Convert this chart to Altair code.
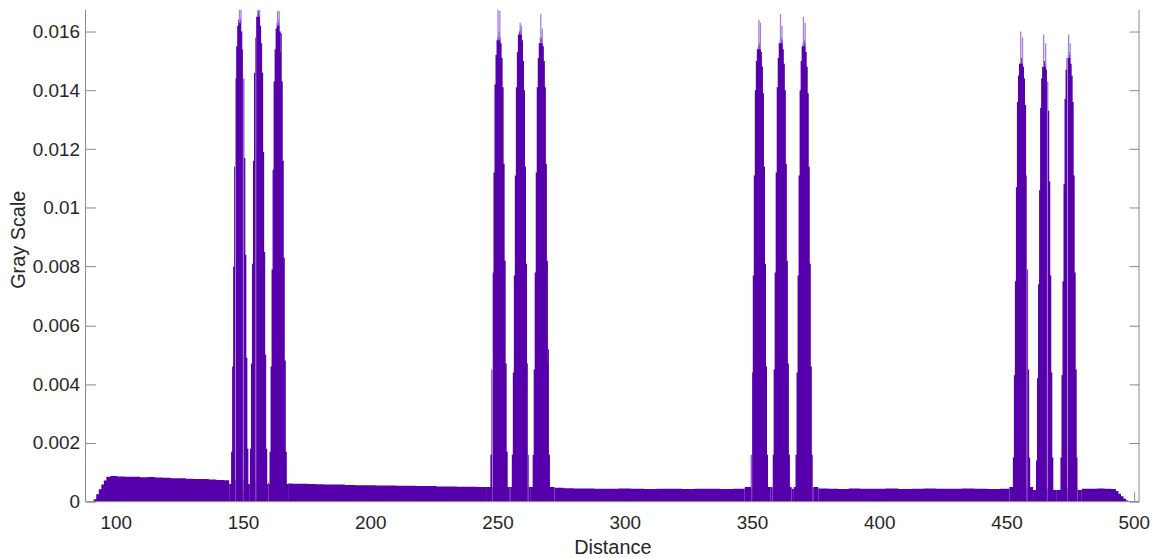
import altair as alt
import pandas as pd

# ---- data ----
base_x = [90.8, 91.8, 92.8, 93.8, 94.8, 95.8, 96.8, 99, 102, 105, 108, 111, 114, 117, 120, 123, 126,
          129, 132, 135, 138, 141, 144, 147, 150, 155, 160, 165, 168, 171, 174, 177, 180, 184, 188,
          192, 196, 200, 204, 208, 212, 216, 220, 224, 228, 232, 236, 240, 244, 248, 255, 262, 270,
          274, 278, 282, 286, 290, 295, 300, 305, 310, 315, 320, 325, 330, 335, 340, 345, 350, 358,
          366, 374, 378, 382, 386, 390, 395, 400, 405, 410, 415, 420, 425, 430, 435, 440, 445, 450,
          458, 466, 474, 478, 481, 484, 487, 490, 492.5, 493.5, 494.5, 495.5, 496.5, 497.5, 498.3]
base_y = [0.0, 0.00008, 0.00025, 0.00042, 0.00058, 0.00072, 0.00085, 0.00087, 0.00086, 0.00085,
          0.00085, 0.00083, 0.00084, 0.00082, 0.00081, 0.00080, 0.00080, 0.00078, 0.00077, 0.00077,
          0.00075, 0.00074, 0.00073, 0.00072, 0.00070, 0.00068, 0.00066, 0.00064, 0.00062, 0.00061,
          0.00061, 0.00060, 0.00059, 0.00058, 0.00058, 0.00057, 0.00056, 0.00056, 0.00055, 0.00055,
          0.00054, 0.00054, 0.00053, 0.00053, 0.00052, 0.00052, 0.00051, 0.00051, 0.00050, 0.00050,
          0.00050, 0.00050, 0.00049, 0.00047, 0.00046, 0.00045, 0.00045, 0.00044, 0.00044, 0.00045,
          0.00044, 0.00043, 0.00044, 0.00044, 0.00043, 0.00044, 0.00044, 0.00043, 0.00044, 0.00044,
          0.00044, 0.00044, 0.00044, 0.00045, 0.00044, 0.00043, 0.00045, 0.00044, 0.00044, 0.00045,
          0.00043, 0.00044, 0.00045, 0.00044, 0.00044, 0.00045, 0.00044, 0.00043, 0.00044, 0.00044,
          0.00044, 0.00044, 0.00045, 0.00044, 0.00044, 0.00045, 0.00044, 0.00043, 0.00036, 0.00027,
          0.00018, 0.00010, 0.00004, 0.0]

peak_offsets = [-3.6, -3.2, -2.8, -2.4, -2.0, -1.6, -1.2, -0.8, -0.4, 0.0,
                0.4, 0.8, 1.2, 1.6, 2.0, 2.4, 2.8, 3.2, 3.6]
peak_centers = [148.7, 156.1, 163.8, 250.6, 259.0, 267.2, 352.9, 361.5, 370.5, 455.9, 465.0, 474.6]
peak_heights = [
    [0.0006, 0.0017, 0.0046, 0.0080, 0.0114, 0.0144, 0.0155, 0.0162, 0.0164, 0.0165, 0.0164, 0.0160, 0.0154, 0.0144, 0.0117, 0.0084, 0.0049, 0.0018, 0.0006],
    [0.0006, 0.0018, 0.0047, 0.0081, 0.0116, 0.0146, 0.0158, 0.0165, 0.0166, 0.0167, 0.0166, 0.0162, 0.0156, 0.0146, 0.0119, 0.0085, 0.0050, 0.0018, 0.0006],
    [0.0006, 0.0017, 0.0046, 0.0079, 0.0113, 0.0143, 0.0154, 0.0161, 0.0163, 0.0164, 0.0163, 0.0160, 0.0153, 0.0143, 0.0116, 0.0083, 0.0048, 0.0017, 0.0006],
    [0.0005, 0.0016, 0.0045, 0.0078, 0.0112, 0.0142, 0.0152, 0.0157, 0.0158, 0.0160, 0.0158, 0.0156, 0.0151, 0.0141, 0.0115, 0.0082, 0.0047, 0.0017, 0.0005],
    [0.0005, 0.0016, 0.0044, 0.0077, 0.0111, 0.0141, 0.0153, 0.0159, 0.0160, 0.0161, 0.0160, 0.0157, 0.0150, 0.0140, 0.0114, 0.0081, 0.0047, 0.0016, 0.0005],
    [0.0005, 0.0016, 0.0045, 0.0078, 0.0112, 0.0141, 0.0151, 0.0156, 0.0158, 0.0158, 0.0157, 0.0155, 0.0150, 0.0141, 0.0115, 0.0082, 0.0047, 0.0016, 0.0005],
    [0.0005, 0.0016, 0.0044, 0.0077, 0.0111, 0.0140, 0.0150, 0.0154, 0.0155, 0.0156, 0.0155, 0.0153, 0.0148, 0.0139, 0.0114, 0.0081, 0.0046, 0.0016, 0.0005],
    [0.0005, 0.0016, 0.0045, 0.0078, 0.0112, 0.0141, 0.0151, 0.0156, 0.0157, 0.0158, 0.0157, 0.0154, 0.0149, 0.0140, 0.0115, 0.0082, 0.0047, 0.0016, 0.0005],
    [0.0005, 0.0016, 0.0044, 0.0077, 0.0111, 0.0140, 0.0150, 0.0155, 0.0156, 0.0157, 0.0156, 0.0153, 0.0148, 0.0139, 0.0114, 0.0081, 0.0046, 0.0016, 0.0005],
    [0.0005, 0.0015, 0.0043, 0.0075, 0.0107, 0.0136, 0.0145, 0.0149, 0.0150, 0.0151, 0.0150, 0.0148, 0.0144, 0.0135, 0.0111, 0.0079, 0.0045, 0.0015, 0.0005],
    [0.0004, 0.0014, 0.0042, 0.0074, 0.0106, 0.0134, 0.0144, 0.0148, 0.0150, 0.0150, 0.0149, 0.0147, 0.0143, 0.0133, 0.0109, 0.0077, 0.0044, 0.0015, 0.0004],
    [0.0004, 0.0015, 0.0043, 0.0075, 0.0108, 0.0137, 0.0147, 0.0151, 0.0152, 0.0153, 0.0152, 0.0149, 0.0145, 0.0136, 0.0111, 0.0078, 0.0045, 0.0015, 0.0004],
]
# thin light-purple spikes above each peak's top
spike_x = [148.6, 149.2, 155.8, 156.5, 163.6, 164.2, 250.2, 250.9, 258.9, 259.4, 267.0, 267.6,
           352.7, 353.3, 361.2, 361.8, 370.2, 370.9, 455.6, 456.3, 464.6, 465.4, 474.4, 475.0]
spike_top = [0.0175, 0.0172, 0.0175, 0.0170, 0.0167, 0.0167, 0.0168, 0.0167, 0.0163, 0.0162,
             0.0166, 0.0161, 0.0164, 0.0163, 0.0166, 0.0162, 0.0165, 0.0163, 0.0160, 0.0158,
             0.0159, 0.0156, 0.0159, 0.0156]
spike_base = [0.0163, 0.0163, 0.0165, 0.0165, 0.0162, 0.0162, 0.0157, 0.0157, 0.0159, 0.0159,
              0.0156, 0.0156, 0.0154, 0.0154, 0.0156, 0.0156, 0.0155, 0.0155, 0.0149, 0.0149,
              0.0148, 0.0148, 0.0151, 0.0151]
y_ticks = [0, 0.002, 0.004, 0.006, 0.008, 0.010, 0.012, 0.014, 0.016]
x_ticks = [100, 150, 200, 250, 300, 350, 400, 450, 500]

# ---- tables ----
rows = [{"seg": "base", "x": x, "y": y} for x, y in zip(base_x, base_y)]
for i, (c, hs) in enumerate(zip(peak_centers, peak_heights)):
    for o, h in zip(peak_offsets, hs):
        rows.append({"seg": f"p{i}", "x": round(c + o, 2), "y": h})
df = pd.DataFrame(rows)
spikes = pd.DataFrame({"x": spike_x, "lo": spike_base, "hi": spike_top})
ticks_df = pd.DataFrame({"v": y_ticks})
one = pd.DataFrame({"a": [0]})

W, H = 1060, 495
FONT = "Liberation Sans"
AX = "#8a8a8a"
TXT = "#262626"
PURPLE = "#5500aa"

xscale = alt.Scale(domain=[88.1, 502.1], nice=False, zero=False)
yscale = alt.Scale(domain=[0, 0.016744], nice=False, zero=False)

x_axis = alt.Axis(values=x_ticks, format="d", offset=-10, tickSize=10, domain=False,
                  grid=False, labelPadding=12, title="Distance", titleX=W / 2, titleY=62,
                  titleBaseline="alphabetic", titleAlign="center")

area = alt.Chart(df).mark_area(color=PURPLE, clip=True, interpolate="step").encode(
    x=alt.X("x:Q", scale=xscale, axis=x_axis),
    y=alt.Y("y:Q", scale=yscale,
            axis=alt.Axis(values=y_ticks, format="~g", offset=-10, tickSize=10, domain=False,
                          grid=False, labelPadding=6, title="Gray Scale", titleAngle=270,
                          titleX=-67, titleY=231, titleBaseline="bottom", titleAlign="center")),
    detail="seg:N",
)

spike_layer = alt.Chart(spikes).mark_rule(color="#a57fdb", strokeWidth=1.3, clip=True).encode(
    x=alt.X("x:Q", scale=xscale, axis=x_axis),
    y=alt.Y("lo:Q", scale=yscale, axis=None),
    y2="hi:Q",
)

right_axis = alt.Chart(ticks_df).mark_rule(opacity=0).encode(
    y=alt.Y("v:Q", scale=yscale,
            axis=alt.Axis(orient="right", values=y_ticks, offset=-10, tickSize=10, domain=False,
                          grid=False, labels=False, title=None)),
)

left_border = alt.Chart(one).mark_rule(color=AX, strokeWidth=1).encode(
    x=alt.value(0), y=alt.value(0), y2=alt.value(H))
right_border = alt.Chart(one).mark_rule(color=AX, strokeWidth=1).encode(
    x=alt.value(W), y=alt.value(0), y2=alt.value(H))
bottom_border = alt.Chart(one).mark_rule(color=AX, strokeWidth=1).encode(
    x=alt.value(0), x2=alt.value(W), y=alt.value(H))

chart = alt.layer(area, spike_layer, right_axis, left_border, right_border, bottom_border).resolve_axis(
    y="independent"
).properties(
    width=W, height=H,
    autosize=alt.AutoSizeParams(type="none"),
    padding={"left": 78, "top": 0, "right": 12, "bottom": 55},
).configure_view(stroke=None).configure_axis(
    labelFont=FONT, titleFont=FONT, labelFontSize=19, titleFontSize=20,
    labelColor=TXT, titleColor=TXT, titleFontWeight="normal", tickColor=AX, tickWidth=1,
)

chart.save("out.html", embed_options={"renderer": "svg", "actions": False})
